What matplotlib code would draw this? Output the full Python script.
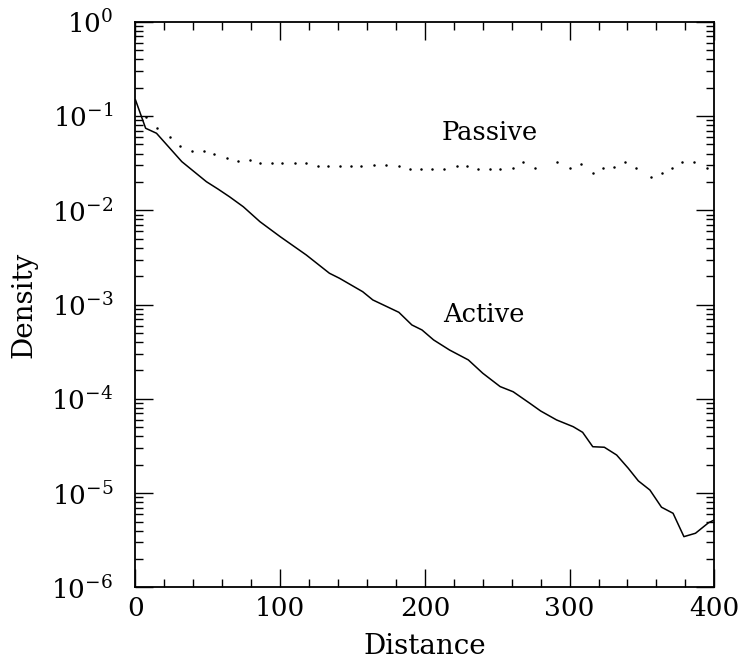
import matplotlib
matplotlib.use("Agg")
import matplotlib.pyplot as plt
from matplotlib.ticker import MultipleLocator, LogLocator, FixedLocator, NullFormatter

plt.rcParams['font.family'] = ['DejaVu Serif']
plt.rcParams['mathtext.fontset'] = 'dejavuserif'

# active walkers: density vs distance (solid curve)
active_dist = [0, 7, 14.5, 32, 49, 57, 65, 74.5, 86, 100, 118, 134, 141, 157, 164,
               169, 182, 191, 198, 206, 217, 230, 240, 252, 261, 272.5, 280, 291,
               302.5, 309, 316, 324, 332.5, 340.5, 347.5, 355.5, 363.5, 371.5,
               379, 387, 396, 400]
active_density = [0.148, 0.0741, 0.0656, 0.0328, 0.0201, 0.0168, 0.0139, 0.0109,
                  0.00757, 0.00525, 0.00336, 0.00215, 0.0019, 0.00137, 0.00112,
                  0.00103, 8.28e-4, 6.08e-4, 5.38e-4, 4.22e-4, 3.30e-4, 2.59e-4,
                  1.87e-4, 1.35e-4, 1.19e-4, 8.98e-5, 7.44e-5, 5.98e-5, 5.07e-5,
                  4.42e-5, 3.11e-5, 3.07e-5, 2.54e-5, 1.84e-5, 1.35e-5, 1.08e-5,
                  7.1e-6, 6.12e-6, 3.46e-6, 3.76e-6, 4.86e-6, 5.2e-6]

# passive walkers: sampled points (dotted)
passive_dist = [7, 15, 24, 31, 39, 47, 54, 63, 71, 79, 86, 94, 101, 110, 118, 126,
                133, 141, 149, 156, 165, 173, 182, 190, 197, 205, 213, 222, 229,
                237, 245, 252, 261, 268, 276, 291, 300, 308, 316, 323, 331, 338,
                346, 356, 364, 371, 378, 386, 395]
passive_density = [0.0969, 0.0746, 0.0603, 0.0484, 0.0422, 0.0422, 0.0393, 0.0359,
                   0.0333, 0.0341, 0.0318, 0.0318, 0.0318, 0.0318, 0.0318, 0.0293,
                   0.0293, 0.0293, 0.0297, 0.0297, 0.0302, 0.0302, 0.0297, 0.0277,
                   0.0277, 0.0277, 0.0277, 0.0295, 0.0295, 0.0277, 0.0277, 0.0277,
                   0.0283, 0.0328, 0.0283, 0.0323, 0.0283, 0.0308, 0.0247, 0.0283,
                   0.0290, 0.0328, 0.0283, 0.0227, 0.0251, 0.0283, 0.0323, 0.0323,
                   0.0283]

decades = [1e-6, 1e-5, 1e-4, 1e-3, 1e-2, 1e-1, 1]

fig = plt.figure(figsize=(7.38, 6.63), dpi=100)
ax = fig.add_axes([0.1836, 0.1139, 0.7843, 0.8534])

ax.plot(active_dist, active_density, color='black', lw=1.1)
ax.plot(passive_dist, passive_density, linestyle='none', marker='o',
        markersize=1.8, markeredgewidth=0, color='black')

ax.set_yscale('log')
ax.set_xlim(0, 400)
ax.set_ylim(1e-6, 1)

ax.xaxis.set_major_locator(MultipleLocator(100))
ax.xaxis.set_minor_locator(MultipleLocator(20))
ax.yaxis.set_major_locator(FixedLocator(decades))
ax.yaxis.set_minor_locator(LogLocator(base=10, subs=range(2, 10), numticks=20))
ax.yaxis.set_minor_formatter(NullFormatter())

ax.tick_params(which='both', direction='in', top=True, right=True, width=1)
ax.tick_params(which='major', length=13, labelsize=19)
ax.tick_params(which='minor', length=6)
ax.tick_params(axis='x', which='major', pad=6)
ax.tick_params(axis='y', which='major', pad=16)

for s in ax.spines.values():
    s.set_linewidth(1.3)

ax.set_xlabel('Distance', fontsize=20, labelpad=9)
ax.set_ylabel('Density', fontsize=20, labelpad=10)

ax.text(245, 0.066, 'Passive', fontsize=18.5, ha='center', va='center')
ax.text(241, 7.9e-4, 'Active', fontsize=18.5, ha='center', va='center')

fig.savefig('out.png', dpi=100)
